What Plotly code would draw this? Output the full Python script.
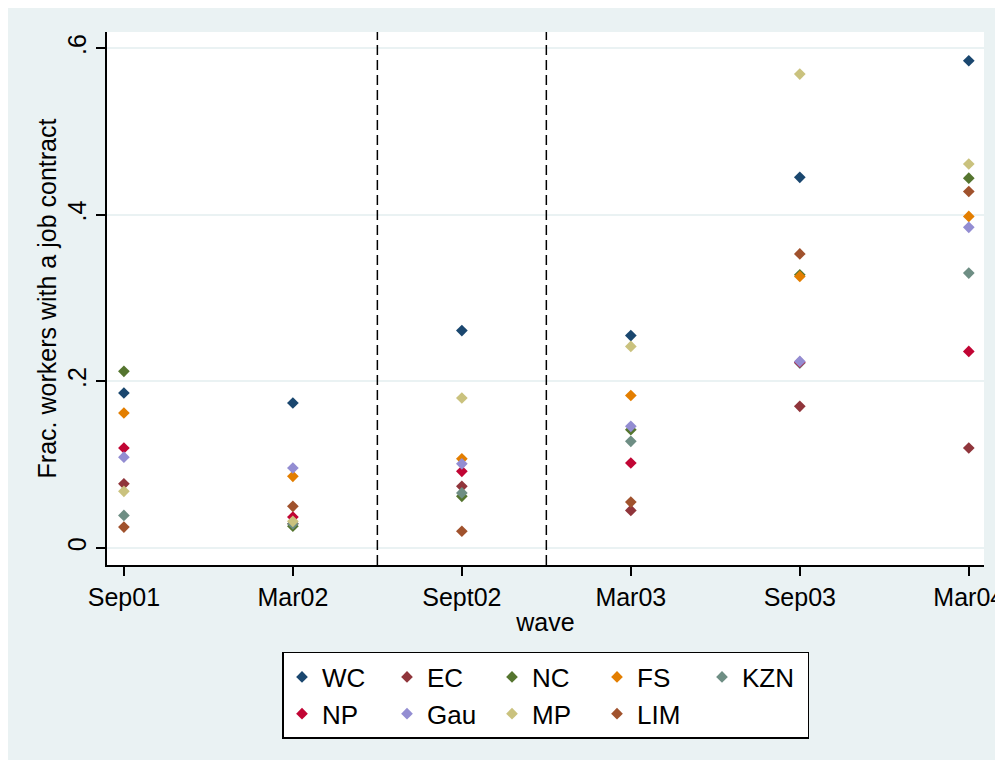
import plotly.graph_objects as go

waves = ["Sep01", "Mar02", "Sept02", "Mar03", "Sep03", "Mar04"]
wave_pos = [1, 2, 3, 4, 5, 6]
provinces = ["WC", "EC", "NC", "FS", "KZN", "NP", "Gau", "MP", "LIM"]
# legend column each province sits in (5 columns x 2 rows, as in the reference)
legend_cols = ["c1", "c2", "c3", "c4", "c5", "c1", "c2", "c3", "c4"]

WC = [0.186, 0.174, 0.261, 0.255, 0.445, 0.585]
EC = [0.077, 0.029, 0.074, 0.045, 0.170, 0.120]
NC = [0.212, 0.026, 0.062, 0.142, 0.328, 0.444]
FS = [0.162, 0.086, 0.107, 0.183, 0.326, 0.398]
KZN = [0.039, 0.029, 0.066, 0.128, 0.222, 0.330]
NP = [0.120, 0.037, 0.092, 0.102, 0.223, 0.236]
Gau = [0.109, 0.096, 0.101, 0.146, 0.224, 0.385]
MP = [0.068, 0.032, 0.180, 0.242, 0.569, 0.461]
LIM = [0.025, 0.050, 0.020, 0.055, 0.353, 0.428]

series = [WC, EC, NC, FS, KZN, NP, Gau, MP, LIM]
colors = ["#1a476f", "#90353b", "#55752f", "#e37e00", "#6e8e84",
          "#c10534", "#938dd2", "#cac27e", "#a0522d"]

y_tickvals = [0, 0.2, 0.4, 0.6]
y_ticktext = ["0", ".2", ".4", ".6"]
divider_pos = [2.5, 3.5]

FONT = "Liberation Sans, Arial, sans-serif"
BG = "#eaf2f3"

fig = go.Figure()
for name, vals, col, grp in zip(provinces, series, colors, legend_cols):
    fig.add_trace(go.Scatter(
        x=wave_pos, y=vals, name=name, mode="markers", legendgroup=grp,
        marker=dict(symbol="diamond", size=9, color=col, line=dict(width=0)),
    ))

# backgrounds
fig.add_shape(type="rect", xref="paper", yref="paper",
              x0=-0.1129, x1=1.0182, y0=-0.3659, y1=1.0525,
              fillcolor=BG, line=dict(width=0), layer="below")
fig.add_shape(type="rect", xref="paper", yref="paper",
              x0=0, x1=1, y0=0, y1=1,
              fillcolor="white", line=dict(width=0), layer="below")

for xv in divider_pos:
    fig.add_shape(type="line", xref="x", yref="paper", x0=xv, x1=xv, y0=0, y1=1,
                  line=dict(color="black", width=1.5, dash="10px,5px"))

fig.update_layout(
    width=995, height=761,
    margin=dict(l=99, r=19, t=24, b=204),
    paper_bgcolor="white", plot_bgcolor="rgba(0,0,0,0)",
    font=dict(family=FONT, size=25, color="black"),
    showlegend=True,
    legend=dict(
        orientation="h", x=0.5, xanchor="center", y=-0.1632, yanchor="top",
        bgcolor="white", bordercolor="black", borderwidth=1.5,
        font=dict(family=FONT, size=26, color="black"),
        entrywidth=60, entrywidthmode="pixels",
        traceorder="grouped", tracegroupgap=0, groupclick="toggleitem",
    ),
)

fig.update_xaxes(
    range=[0.9, 6.09], tickmode="array", tickvals=wave_pos, ticktext=waves,
    automargin=False, ticklabeloverflow="allow",
    showgrid=False, zeroline=False,
    showline=True, linecolor="black", linewidth=1.5,
    ticks="outside", ticklen=9, tickcolor="black", tickwidth=1.5,
    tickfont=dict(family=FONT, size=25, color="black"),
    title=dict(text="wave", font=dict(family=FONT, size=25, color="black"), standoff=4),
)
fig.update_yaxes(
    range=[-0.0205, 0.6195], tickmode="array", tickvals=y_tickvals, ticktext=y_ticktext,
    tickangle=-90, automargin=False,
    showgrid=True, gridcolor=BG, gridwidth=1.5, zeroline=False,
    showline=True, linecolor="black", linewidth=1.5,
    ticks="outside", ticklen=9, tickcolor="black", tickwidth=1.5,
    tickfont=dict(family=FONT, size=25, color="black"),
    title=dict(text="Frac. workers with a job contract",
               font=dict(family=FONT, size=25, color="black"), standoff=0),
)

fig.write_html("out.html")
